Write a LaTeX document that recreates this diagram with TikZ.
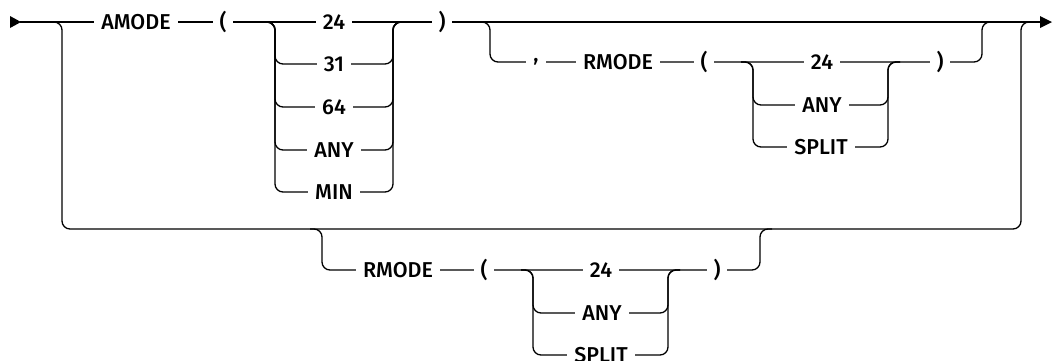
\documentclass[tikz,border=0pt]{standalone}
\usepackage{fontspec}
\setmainfont{Fira Sans}[UprightFont={* Medium}]
\begin{document}
\begin{tikzpicture}[x=1pt,y=-1pt,
  rr/.style={line width=1.3pt, rounded corners=8pt},
  lbl/.style={fill=white, inner xsep=7pt, inner ysep=1pt, font=\fontsize{21.5}{23}\selectfont},
  tip/.style={fill=black, draw=none}]
\useasboundingbox (0,0) rectangle (1053,360);
% main line
\coordinate (start) at (20,22);
\coordinate (finish) at (1041,22);
\draw[line width=1.3pt] (start) -- (finish);
\fill[tip] (10,16) -- (21,22) -- (10,28) -- cycle;
\fill[tip] (1040,16) -- (1052,22) -- (1040,28) -- cycle;
% big outer loop (alternative)
\draw[rr] (50,22) -| (62,229) -| (1021,22) -- (1033,22);
% AMODE value choices
\foreach \yy in {64,107,150,192}{
  \draw[rr] (263,22) -| (275,\yy) -| (393,22) -- (405,22);
}
% optional ,RMODE(...) in top
\draw[rr] (478,22) -| (490,62) -| (982,22) -- (994,22);
\foreach \yy in {105,147}{
  \draw[rr] (741,62) -| (753,\yy) -| (888,62) -- (900,62);
}
% bottom RMODE alternative
\draw[rr] (310,229) -| (322,270) -| (760,229) -- (772,229);
\foreach \yy in {313,355}{
  \draw[rr] (521,270) -| (533,\yy) -| (668,270) -- (680,270);
}
% labels top line
\node[lbl] (amode) at (136,22) {AMODE};
\node[lbl] (lp1) at (223,22) {(};
\node[lbl] (a24) at (334,22) {24};
\node[lbl] (a31) at (334,64) {31};
\node[lbl] (a64) at (334,107) {64};
\node[lbl] (aany) at (334,150) {ANY};
\node[lbl] (amin) at (334,192) {MIN};
\node[lbl] (rp1) at (442,22) {)};
% top optional
\node[lbl] (comma) at (536,62) {,};
\node[lbl] (rmode1) at (618,62) {RMODE};
\node[lbl] (lp2) at (704,62) {(};
\node[lbl] (b24) at (822,62) {24};
\node[lbl] (bany) at (822,105) {ANY};
\node[lbl] (bsplit) at (821,147) {SPLIT};
\node[lbl] (rp2) at (940,62) {)};
% bottom
\node[lbl] (rmode2) at (398,270) {RMODE};
\node[lbl] (lp3) at (484,270) {(};
\node[lbl] (c24) at (601,270) {24};
\node[lbl] (cany) at (602,313) {ANY};
\node[lbl] (csplit) at (601,355) {SPLIT};
\node[lbl] (rp3) at (717,270) {)};
\end{tikzpicture}
\end{document}
